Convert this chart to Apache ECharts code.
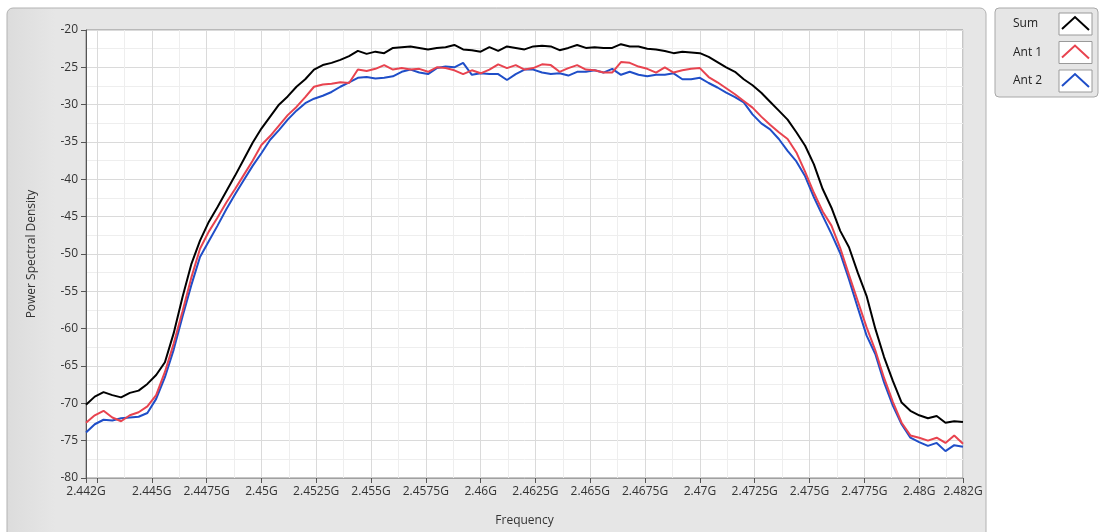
<!DOCTYPE html>
<html>
<head>
<meta charset="utf-8">
<script src="https://cdn.jsdelivr.net/npm/echarts@6/dist/echarts.min.js"></script>
<style>
html,body{margin:0;padding:0;background:#ffffff;}
#chart{width:1100px;height:532px;}
</style>
</head>
<body>
<div id="chart"></div>
<script>
// Frequency (GHz)
const freq = [2.442,2.4424,2.4428,2.4432,2.4436,2.444,2.4444,2.4448,2.4452,2.4456,
2.446,2.4464,2.4468,2.4472,2.4476,2.448,2.4484,2.4488,2.4492,2.4496,
2.450,2.4504,2.4508,2.4512,2.4516,2.452,2.4524,2.4528,2.4532,2.4536,
2.454,2.4544,2.4548,2.4552,2.4556,2.456,2.4564,2.4568,2.4572,2.4576,
2.458,2.4584,2.4588,2.4592,2.4596,2.460,2.4604,2.4608,2.4612,2.4616,
2.462,2.4624,2.4628,2.4632,2.4636,2.464,2.4644,2.4648,2.4652,2.4656,
2.466,2.4664,2.4668,2.4672,2.4676,2.468,2.4684,2.4688,2.4692,2.4696,
2.470,2.4704,2.4708,2.4712,2.4716,2.472,2.4724,2.4728,2.4732,2.4736,
2.474,2.4744,2.4748,2.4752,2.4756,2.476,2.4764,2.4768,2.4772,2.4776,
2.478,2.4784,2.4788,2.4792,2.4796,2.480,2.4804,2.4808,2.4812,2.4816,2.482];

const sumPsd = [-70.2,-69.1,-68.5,-68.9,-69.2,-68.6,-68.3,-67.4,-66.2,-64.5,
-60.6,-55.8,-51.4,-48.2,-45.7,-43.7,-41.6,-39.5,-37.3,-35.1,
-33.2,-31.6,-30.0,-28.9,-27.6,-26.6,-25.3,-24.7,-24.4,-24.0,
-23.5,-22.8,-23.2,-22.9,-23.1,-22.4,-22.3,-22.2,-22.4,-22.6,
-22.4,-22.3,-22.0,-22.6,-22.7,-22.9,-22.3,-22.8,-22.2,-22.4,
-22.6,-22.2,-22.1,-22.2,-22.7,-22.4,-22.0,-22.4,-22.3,-22.4,
-22.4,-21.9,-22.2,-22.2,-22.5,-22.6,-22.8,-23.1,-22.9,-23.0,
-23.1,-23.6,-24.3,-25.0,-25.6,-26.6,-27.4,-28.4,-29.6,-30.8,
-32.0,-33.7,-35.5,-38.0,-41.3,-43.8,-46.9,-49.1,-52.5,-55.6,
-60.0,-63.8,-67.0,-69.9,-71.0,-71.6,-72.0,-71.7,-72.6,-72.4,-72.5];

const ant1Psd = [-72.6,-71.6,-71.0,-71.9,-72.4,-71.6,-71.2,-70.4,-68.9,-65.8,
-62.0,-57.7,-53.2,-49.3,-47.0,-45.1,-43.1,-41.3,-39.4,-37.5,
-35.4,-34.2,-32.8,-31.4,-30.3,-29.0,-27.6,-27.3,-27.2,-27.0,
-27.1,-25.3,-25.5,-25.2,-24.7,-25.3,-25.1,-25.3,-25.2,-25.6,
-25.0,-25.1,-25.4,-25.9,-25.4,-25.8,-25.3,-24.6,-25.1,-24.7,
-25.3,-25.1,-24.6,-24.7,-25.6,-25.1,-24.7,-25.3,-25.4,-25.7,
-25.7,-24.3,-24.4,-24.9,-25.2,-25.7,-25.0,-25.7,-25.4,-25.2,
-25.1,-26.3,-27.0,-27.8,-28.6,-29.5,-30.4,-31.6,-32.7,-33.7,
-34.6,-36.4,-39.0,-41.8,-44.3,-46.2,-49.2,-52.8,-56.3,-59.8,
-62.9,-66.6,-69.8,-72.6,-74.3,-74.6,-75.0,-74.6,-75.3,-74.3,-75.4];

const ant2Psd = [-73.9,-72.8,-72.2,-72.3,-72.0,-71.9,-71.8,-71.3,-69.4,-66.5,
-62.8,-58.4,-54.2,-50.4,-48.3,-46.2,-44.0,-42.0,-40.1,-38.2,
-36.5,-34.7,-33.4,-32.0,-30.8,-29.8,-29.2,-28.8,-28.3,-27.6,
-27.0,-26.4,-26.3,-26.5,-26.4,-26.2,-25.6,-25.3,-25.7,-25.9,
-25.1,-24.9,-25.0,-24.4,-26.0,-25.8,-25.9,-25.9,-26.7,-25.9,
-25.3,-25.3,-25.7,-25.9,-25.8,-26.1,-25.6,-25.6,-25.4,-25.7,
-25.2,-26.0,-25.6,-26.0,-26.2,-26.0,-26.0,-25.8,-26.6,-26.6,
-26.4,-27.1,-27.7,-28.4,-29.0,-29.7,-31.3,-32.5,-33.3,-34.6,
-36.2,-37.6,-39.6,-42.4,-44.9,-47.3,-49.9,-53.4,-57.2,-60.9,
-63.4,-67.2,-70.3,-72.8,-74.6,-75.2,-75.7,-75.3,-76.4,-75.6,-75.8];

const xLabelValues = [2.442,2.445,2.4475,2.45,2.4525,2.455,2.4575,2.46,2.4625,2.465,2.4675,2.47,2.4725,2.475,2.4775,2.48,2.482];
const xTickValues = [2.442,2.4425,2.445,2.4475,2.45,2.4525,2.455,2.4575,2.46,2.4625,2.465,2.4675,2.47,2.4725,2.475,2.4775,2.48,2.482];
const xMinorValues = [2.44375,2.44625,2.44875,2.45125,2.45375,2.45625,2.45875,2.46125,2.46375,2.46625,2.46875,2.47125,2.47375,2.47625,2.47875,2.48125];
const legendNames = ['Sum','Ant 1','Ant 2'];
const seriesColors = ['#000000','#e8434f','#1f4ec8'];

function pairs(vals){ return freq.map((f,i)=>[f, vals[i]]); }

const FONT = '"Open Sans", "Noto Sans", sans-serif';
const chart = echarts.init(document.getElementById('chart'), null, {renderer:'canvas'});

const legendGraphics = [];
legendNames.forEach((n, i) => {
  const top = 13 + i * 28.5;
  legendGraphics.push({type:'rect', shape:{x:1059, y:top, width:33, height:22}, style:{fill:'#ffffff', stroke:'#9a9a9a', lineWidth:1}, z:101, silent:true});
  legendGraphics.push({type:'polyline', shape:{points:[[1062, top+16],[1075, top+4],[1089, top+17]]}, style:{stroke:seriesColors[i], lineWidth:2, fill:null}, z:102, silent:true});
  legendGraphics.push({type:'text', x:1013, y:top+11, style:{text:n, fill:'#222', font:'12px ' + FONT, textVerticalAlign:'middle', textAlign:'left'}, z:102, silent:true});
});

chart.setOption({
  animation:false,
  backgroundColor:'#ffffff',
  graphic:[
    {type:'rect', shape:{x:7, y:8, width:979, height:530, r:6}, style:{fill:new echarts.graphic.LinearGradient(0,0,1,0,[{offset:0,color:'#dcdcdc'},{offset:0.05,color:'#e6e6e6'},{offset:1,color:'#e6e6e6'}]), stroke:'#b2b2b2', lineWidth:1}, z:-10, silent:true},
    {type:'rect', shape:{x:995, y:8, width:103, height:89, r:4}, style:{fill:'#e6e6e6', stroke:'#a8a8a8', lineWidth:1}, z:100, silent:true}
  ].concat(legendGraphics),
  grid:{left:86, top:30, width:877, height:450, show:true, backgroundColor:'#ffffff', borderColor:'#8c8c8c', borderWidth:1, containLabel:false},
  xAxis:[{
    type:'value', min:2.442, max:2.482,
    name:'Frequency', nameLocation:'middle', nameGap:37,
    nameTextStyle:{fontFamily:FONT, fontSize:12, color:'#333'},
    axisLine:{show:true, onZero:false, lineStyle:{color:'#a0a0a0', width:1}},
    axisTick:{show:true, length:5, customValues:xTickValues, lineStyle:{color:'#555'}},
    axisLabel:{customValues:xLabelValues, margin:8, fontFamily:FONT, fontSize:12, color:'#333',
      formatter:v => (+(+v).toFixed(4)) + 'G'},
    splitLine:{show:true, lineStyle:{color:'#dadada', width:1}}
  },{
    type:'value', min:2.442, max:2.482, position:'bottom',
    axisLine:{show:false}, axisLabel:{show:false},
    axisTick:{show:false, customValues:xMinorValues},
    splitLine:{show:true, lineStyle:{color:'#eeeeee', width:1}}
  }],
  yAxis:{
    type:'value', min:-80, max:-20, interval:5,
    name:'Power Spectral Density', nameLocation:'middle', nameGap:48, nameRotate:90,
    nameTextStyle:{fontFamily:FONT, fontSize:12, color:'#333'},
    axisLine:{show:true, lineStyle:{color:'#555', width:1}},
    axisTick:{show:true, length:5, lineStyle:{color:'#555'}},
    axisLabel:{margin:8, fontFamily:FONT, fontSize:12, color:'#333'},
    splitLine:{show:true, lineStyle:{color:'#dadada', width:1}},
    minorTick:{show:false, splitNumber:2},
    minorSplitLine:{show:true, lineStyle:{color:'#eeeeee', width:1}}
  },
  series:[
    {name:'Sum', type:'line', xAxisIndex:0, data:pairs(sumPsd), showSymbol:false, lineStyle:{color:seriesColors[0], width:2}, itemStyle:{color:seriesColors[0]}, z:3},
    {name:'Ant 2', type:'line', xAxisIndex:0, data:pairs(ant2Psd), showSymbol:false, lineStyle:{color:seriesColors[2], width:2}, itemStyle:{color:seriesColors[2]}, z:3},
    {name:'Ant 1', type:'line', xAxisIndex:0, data:pairs(ant1Psd), showSymbol:false, lineStyle:{color:seriesColors[1], width:2}, itemStyle:{color:seriesColors[1]}, z:4}
  ]
});
</script>
</body>
</html>
